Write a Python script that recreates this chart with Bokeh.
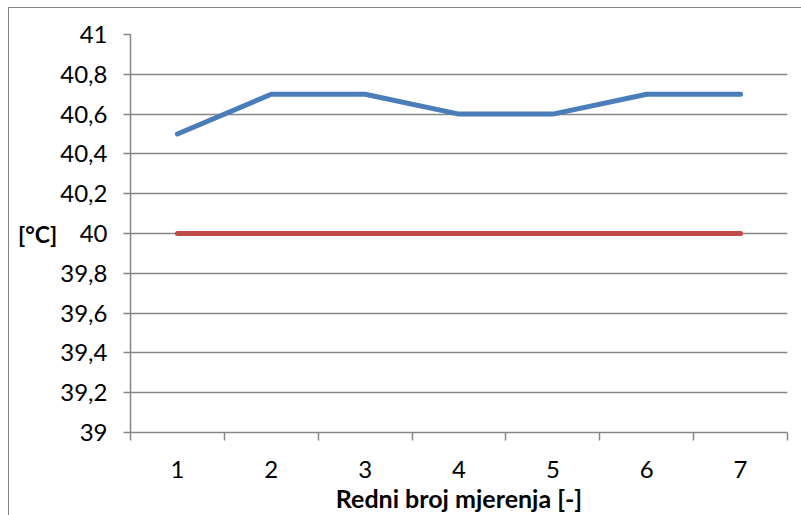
from bokeh.plotting import figure
from bokeh.models import FixedTicker, CustomJSTickFormatter
from bokeh.embed import file_html
from bokeh.resources import INLINE

# Measurement data
mjerenja = [1, 2, 3, 4, 5, 6, 7]
izmjereno = [40.5, 40.7, 40.7, 40.6, 40.6, 40.7, 40.7]
zadano = [40.0, 40.0, 40.0, 40.0, 40.0, 40.0, 40.0]
y_ticks = [39, 39.2, 39.4, 39.6, 39.8, 40, 40.2, 40.4, 40.6, 40.8, 41]

FONT = "Lato"
GRAY = "#868686"

p = figure(
    frame_width=657, frame_height=398,
    min_border_left=121, min_border_right=14,
    min_border_top=26, min_border_bottom=83,
    x_range=(0.5, 7.5), y_range=(39, 41),
    output_backend="svg", toolbar_location=None,
    background_fill_color="white", border_fill_color="white",
)
p.outline_line_color = None
# Outer chart frame (left and top edges visible in the window)
p.styles = {
    "margin-left": "8px", "margin-top": "7px",
    "border-left": "1px solid #868686", "border-top": "1px solid #868686",
}

# Series
p.line(mjerenja, zadano, line_color="#BE4B48", line_width=5, line_cap="round")
p.line(mjerenja, izmjereno, line_color="#4A7EBB", line_width=5,
       line_cap="round", line_join="round")

# Y axis
ya = p.yaxis[0]
ya.ticker = FixedTicker(ticks=y_ticks)
ya.formatter = CustomJSTickFormatter(
    code="return (Math.round(tick * 10) / 10).toString().replace('.', ',');")
ya.axis_line_color = GRAY
ya.axis_line_width = 1.5
ya.major_tick_line_color = GRAY
ya.major_tick_line_width = 1.5
ya.major_tick_out = 7
ya.major_tick_in = 0
ya.minor_tick_line_color = None
ya.major_label_text_font = FONT
ya.major_label_text_font_size = "24px"
ya.major_label_text_color = "black"
ya.major_label_standoff = 16
ya.axis_label = "[°C]"
ya.axis_label_orientation = "horizontal"
ya.axis_label_text_font = FONT
ya.axis_label_text_font_size = "23px"
ya.axis_label_text_font_style = "bold"
ya.axis_label_text_color = "black"
ya.axis_label_standoff = 0

# X axis: labels at categories, ticks between them
xa = p.xaxis[0]
xa.ticker = FixedTicker(ticks=mjerenja,
                        minor_ticks=[m - 0.5 for m in mjerenja] + [7.5])
xa.axis_line_color = GRAY
xa.axis_line_width = 1.5
xa.major_tick_line_color = None
xa.major_tick_out = 0
xa.major_tick_in = 0
xa.minor_tick_line_color = GRAY
xa.minor_tick_line_width = 1.5
xa.minor_tick_out = 8
xa.minor_tick_in = 0
xa.major_label_text_font = FONT
xa.major_label_text_font_size = "24px"
xa.major_label_text_color = "black"
xa.major_label_standoff = 20
xa.axis_label = "Redni broj mjerenja [-]"
xa.axis_label_text_font = FONT
xa.axis_label_text_font_size = "25px"
xa.axis_label_text_font_style = "bold"
xa.axis_label_text_color = "black"
xa.axis_label_standoff = 2

p.xgrid.grid_line_color = None
p.ygrid.ticker = FixedTicker(ticks=y_ticks)
p.ygrid.grid_line_color = GRAY
p.ygrid.grid_line_width = 1.5

open("out.html", "w").write(file_html(p, INLINE))
